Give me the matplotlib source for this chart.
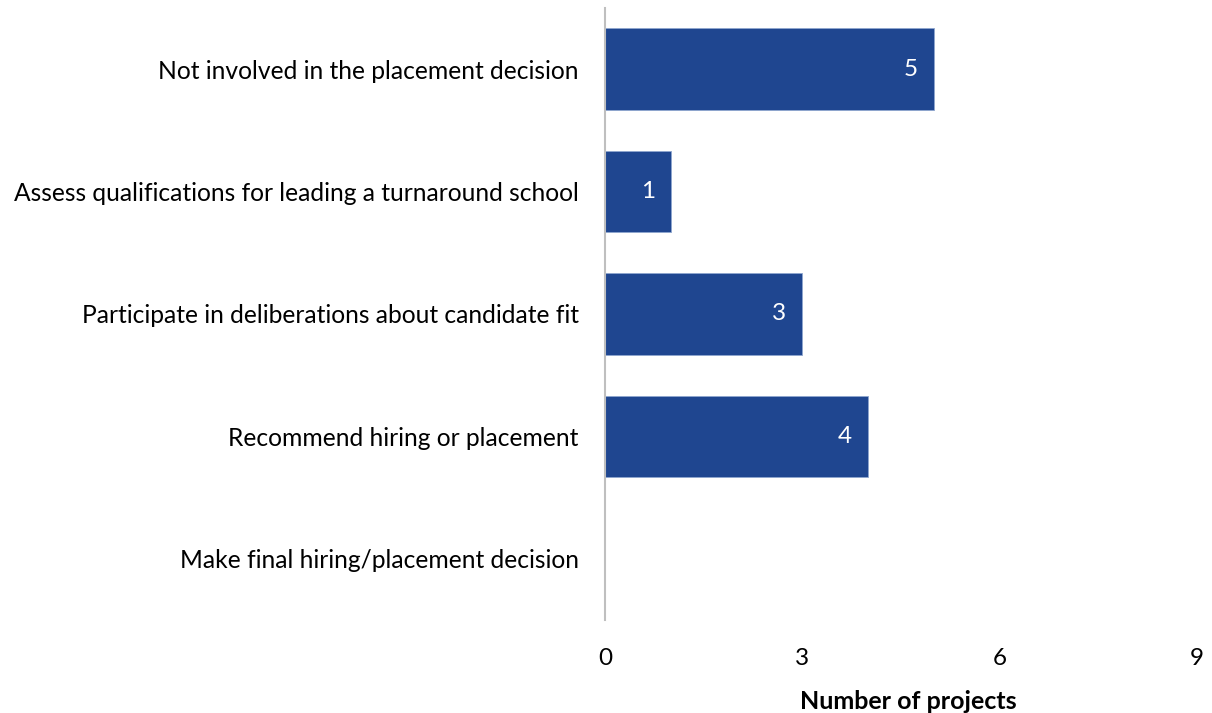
import matplotlib
matplotlib.use("Agg")
import matplotlib.pyplot as plt

categories = [
    "Not involved in the placement decision",
    "Assess qualifications for leading a turnaround school",
    "Participate in deliberations about candidate fit",
    "Recommend hiring or placement",
    "Make final hiring/placement decision",
]
values = [5, 1, 3, 4, 0]
x_ticks = [0, 3, 6, 9]

plt.rcParams['font.family'] = ['Lato', 'DejaVu Sans']

fig = plt.figure(figsize=(12.12, 7.13), dpi=100)
ax = fig.add_axes([605 / 1212, 1 - 620 / 713, (1197 - 605) / 1212, (620 - 8) / 713])

bar_color = "#1F4690"
pos = list(range(len(categories)))
ax.barh(pos, values, height=0.667, color=bar_color, edgecolor="#8FA6CF", linewidth=0.6)

for p, v in zip(pos, values):
    if v > 0:
        ax.text(v - 0.35, p, str(v), ha="center", va="center", color="white", fontsize=17.5)

ax.set_xlim(0, 9)
ax.set_ylim(len(categories) - 0.5, -0.5)
ax.set_xticks(x_ticks)
ax.set_xticklabels([str(t) for t in x_ticks], fontsize=17.5)
ax.set_yticks(pos)
ax.set_yticklabels(categories, fontsize=17.7)
ax.tick_params(axis="both", length=0)
ax.tick_params(axis="x", pad=20)
ax.tick_params(axis="y", pad=19)

for side in ["top", "right", "bottom"]:
    ax.spines[side].set_visible(False)
ax.spines["left"].set_color("#BFBFBF")
ax.spines["left"].set_linewidth(1.5)

ax.set_xlabel("Number of projects", fontsize=18, fontweight="bold", labelpad=10)
ax.xaxis.set_label_coords((908 - 605) / (1197 - 605), -0.115)

fig.savefig("out.png", dpi=100)
